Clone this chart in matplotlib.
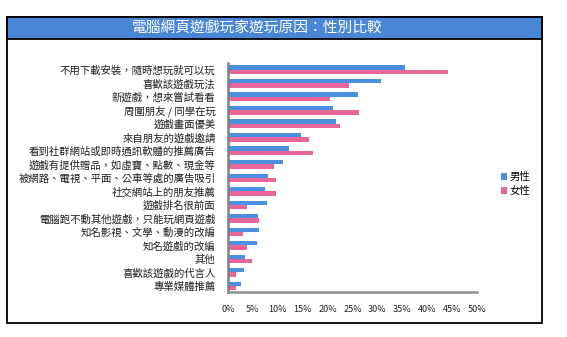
import matplotlib
matplotlib.use('Agg')
import matplotlib.pyplot as plt
from matplotlib.patches import Rectangle
import numpy as np

plt.rcParams['font.family'] = ['Noto Sans CJK TC', 'DejaVu Sans']

title = '電腦網頁遊戲玩家遊玩原因：性別比較'
reasons = ['不用下載安裝，隨時想玩就可以玩', '喜歡該遊戲玩法', '新遊戲，想來嘗試看看',
           '周圍朋友 / 同學在玩', '遊戲畫面優美', '來自朋友的遊戲邀請',
           '看到社群網站或即時通訊軟體的推薦廣告', '遊戲有提供贈品，如虛寶、點數、現金等',
           '被網路、電視、平面、公車等處的廣告吸引', '社交網站上的朋友推薦', '遊戲排名很前面',
           '電腦跑不動其他遊戲，只能玩網頁遊戲', '知名影視、文學、動漫的改編', '知名遊戲的改編',
           '其他', '喜歡該遊戲的代言人', '專業媒體推薦']
male = [35.5, 30.8, 26.1, 21.1, 21.7, 14.6, 12.3, 11.1, 8.1, 7.4, 7.8, 6.0, 6.3, 5.8, 3.4, 3.2, 2.7]
female = [44.2, 24.2, 20.4, 26.4, 22.5, 16.3, 17.1, 9.3, 9.6, 9.6, 3.8, 6.2, 3.1, 3.8, 4.8, 1.7, 1.7]
xticks = [0, 5, 10, 15, 20, 25, 30, 35, 40, 45, 50]

W, H = 567, 337
fig = plt.figure(figsize=(W / 100, H / 100), dpi=100)

# outer frame and title bar
fig.patches.append(Rectangle((7 / W, 1 - 323 / H), 535 / W, 306 / H, transform=fig.transFigure,
                             fill=False, edgecolor='black', lw=1.3))
fig.patches.append(Rectangle((7 / W, 1 - 39 / H), 535 / W, 22 / H, transform=fig.transFigure,
                             facecolor='#4a86d6', edgecolor='black', lw=1.3))
fig.text(257 / W, 1 - 28 / H, title, color='white', fontsize=10.6, ha='center', va='center')

ax = fig.add_axes([228 / W, 1 - 292 / H, 249 / W, 229 / H])
y = np.arange(len(reasons))
h = 0.32
ax.barh(y - h / 2, male, height=h, color='#4a8fe2', label='男性')
ax.barh(y + h / 2, female, height=h, color='#e8679a', label='女性')

ax.set_xlim(0, 50)
ax.set_ylim(len(reasons) - 0.55, -0.5)
ax.set_yticks(y)
ax.set_yticklabels(reasons, fontsize=7.5, color='#222222')
ax.set_xticks(xticks)
ax.set_xticklabels([f'{v}%' for v in xticks], fontsize=6.5, color='#222222')
ax.tick_params(axis='both', length=0)
ax.tick_params(axis='y', pad=9)
ax.tick_params(axis='x', pad=9)
for s in ['top', 'right']:
    ax.spines[s].set_visible(False)
ax.spines['left'].set_color('#808080')
ax.spines['left'].set_linewidth(1.8)
ax.spines['bottom'].set_color('#909090')
ax.spines['bottom'].set_linewidth(1.8)

ax.legend(loc='center left', bbox_to_anchor=(496 / W, 1 - 184 / H), bbox_transform=fig.transFigure,
          frameon=False, fontsize=7.5, handlelength=0.6, handleheight=0.6, handletextpad=0.2,
          labelspacing=0.35, borderpad=0)

fig.savefig('out.png', dpi=100)
